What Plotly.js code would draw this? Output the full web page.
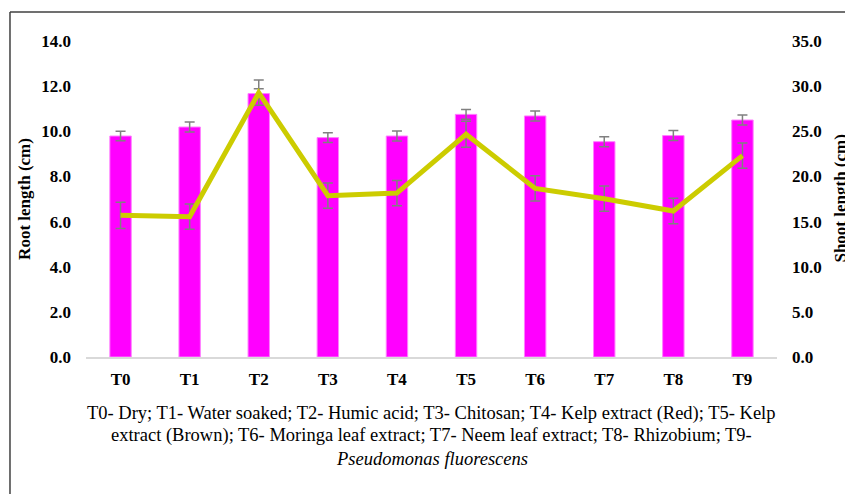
<!DOCTYPE html>
<html>
<head>
<meta charset="utf-8">
<script src="https://cdn.plot.ly/plotly-3.0.1.min.js"></script>
</head>
<body style="margin:0;background:#fff">
<div id="chart" style="width:845px;height:494px"></div>
<script>
// Data
const categories = ["T0","T1","T2","T3","T4","T5","T6","T7","T8","T9"];
const rootLength = [9.79, 10.19, 11.67, 9.72, 9.79, 10.75, 10.68, 9.54, 9.81, 10.50];
const rootErr    = [0.21, 0.22, 0.22, 0.22, 0.22, 0.22, 0.22, 0.22, 0.22, 0.22];
const shootLength = [15.69, 15.54, 29.27, 17.87, 18.16, 24.67, 18.68, 17.53, 16.17, 22.30];
const shootErr    = [1.45, 1.40, 1.40, 1.40, 1.40, 1.44, 1.40, 1.40, 1.42, 1.40];
const leftTicks = [0, 2, 4, 6, 8, 10, 12, 14];
const rightTicks = [0, 5, 10, 15, 20, 25, 30, 35];
const leftTitle = "Root length (cm)";
const rightTitle = "Shoot length (cm)";
const captionLines = [
  "T0- Dry; T1- Water soaked; T2- Humic acid; T3- Chitosan; T4- Kelp extract (Red); T5- Kelp",
  "extract (Brown); T6- Moringa leaf extract; T7- Neem leaf extract; T8- Rhizobium; T9-",
  "<i>Pseudomonas fluorescens</i>"
];

const SERIF = "Times New Roman, Times, serif";
const tickFont = {family: SERIF, size: 17, color: "#000000", weight: "bold"};
const titleFont = {family: SERIF, size: 17, color: "#000000", weight: "bold"};

const traces = [
  {
    type: "bar",
    x: categories,
    y: rootLength,
    width: 0.31,
    marker: {color: "#ff00ff", line: {color: "#ff80ff", width: 1}},
    error_y: {type: "data", array: rootErr, visible: true, color: "#808080", thickness: 1.5, width: 5},
    hoverinfo: "skip"
  },
  {
    type: "scatter",
    mode: "lines",
    x: categories,
    y: shootLength,
    yaxis: "y2",
    line: {color: "#cccc00", width: 5},
    error_y: {type: "data", array: shootErr, visible: true, color: "#808080", thickness: 1.5, width: 5},
    hoverinfo: "skip"
  }
];

const captionY = [-0.178, -0.248, -0.323];
const annotations = captionLines.map((t, i) => ({
  text: t, xref: "paper", yref: "paper", x: 0.5, y: captionY[i],
  xanchor: "center", yanchor: "middle", showarrow: false,
  font: {family: SERIF, size: 18.5, color: "#000000"}
}));
annotations.push({
  text: rightTitle, xref: "paper", yref: "paper", x: 1.0905, y: 0.5,
  xanchor: "center", yanchor: "middle", textangle: -90, showarrow: false,
  font: titleFont
});

const layout = {
  width: 845, height: 494,
  margin: {l: 86, r: 68, t: 41, b: 137},
  paper_bgcolor: "#ffffff", plot_bgcolor: "#ffffff",
  showlegend: false,
  font: {family: SERIF, color: "#000000"},
  xaxis: {
    type: "category",
    showline: true, linecolor: "#d9d9d9", linewidth: 1.5,
    showgrid: false, zeroline: false, ticks: "",
    tickfont: tickFont, ticklabelstandoff: 6
  },
  yaxis: {
    range: [0, 14], tickvals: leftTicks, tickformat: ".1f",
    showgrid: false, zeroline: false, showline: false, ticks: "",
    tickfont: tickFont, ticklabelstandoff: 14,
    title: {text: leftTitle, font: titleFont, standoff: 6}
  },
  yaxis2: {
    overlaying: "y", side: "right",
    range: [0, 35], tickvals: rightTicks, tickformat: ".1f",
    showgrid: false, zeroline: false, showline: false, ticks: "",
    tickfont: tickFont, ticklabelstandoff: 14
  },
  annotations: annotations,
  shapes: [
    {type: "line", xref: "paper", yref: "paper", x0: -0.110, x1: -0.110, y0: 1.0918, y1: -0.5, line: {color: "#404040", width: 1.5}},
    {type: "line", xref: "paper", yref: "paper", x0: -0.110, x1: 1.2, y0: 1.0918, y1: 1.0918, line: {color: "#404040", width: 1.5}}
  ]
};

Plotly.newPlot("chart", traces, layout, {displayModeBar: false});
</script>
</body>
</html>
